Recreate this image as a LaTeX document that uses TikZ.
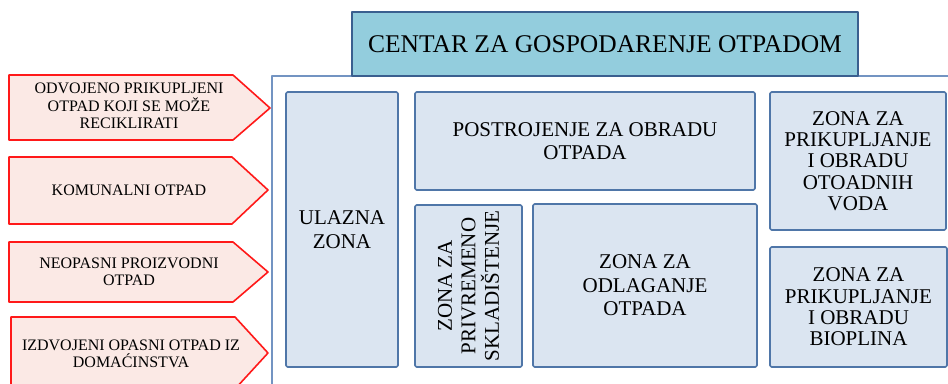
\documentclass[tikz,border=0pt]{standalone}
\usepackage{fontspec}
\setmainfont{Liberation Serif}
\usepackage{tikz}
\definecolor{ttccdd}{rgb}{0.576,0.804,0.867}
\definecolor{qqwwaa}{rgb}{0.227,0.373,0.561}
\definecolor{ddeeff}{rgb}{0.859,0.898,0.945}
\definecolor{wwaacc}{rgb}{0.31,0.463,0.659}
\definecolor{aabbdd}{rgb}{0.45,0.58,0.76}
\definecolor{ffeeee}{rgb}{0.984,0.914,0.898}
\definecolor{ffqqqq}{rgb}{1.,0.1,0.1}
\tikzstyle{every node}=[font=\fontsize{21}{23.5}\selectfont]

\begin{document}
\begin{tikzpicture}[line cap=round,line join=round,x=1pt,y=-1pt,
  zona/.style={draw=wwaacc,fill=ddeeff,line width=1.6pt,rounded corners=1.5pt,align=center,inner sep=2pt},
  ulaz/.style={draw=ffqqqq,fill=ffeeee,line width=1.6pt},
  ulaztxt/.style={align=center,font=\fontsize{16}{17.5}\selectfont}]
\clip (0,0) rectangle (948,383);
\useasboundingbox (0,0) rectangle (948,383);
% ulazni tokovi otpada
\draw [ulaz] (9,75) -- (233,75) -- (270,108) -- (233,140) -- (9,140) -- cycle;
\draw [ulaz] (9,157) -- (232,157) -- (268,190) -- (232,224) -- (9,224) -- cycle;
\draw [ulaz] (9,242) -- (233,242) -- (268,272) -- (233,302) -- (9,302) -- cycle;
\draw [ulaz] (11,317) -- (235,317) -- (268,353) -- (235,389) -- (11,389) -- cycle;
\node [ulaztxt] (reciklaza) at (129,106) {ODVOJENO PRIKUPLJENI\\OTPAD KOJI SE MOŽE\\RECIKLIRATI};
\node [ulaztxt] (komunalni) at (129,190) {KOMUNALNI OTPAD};
\node [ulaztxt] (neopasni) at (129,272) {NEOPASNI PROIZVODNI\\OTPAD};
\node [ulaztxt] (opasni) at (131,354) {IZDVOJENI OPASNI OTPAD IZ\\DOMAĆINSTVA};
% centar
\draw [line width=1.6pt,color=aabbdd,fill=white] (272,76) rectangle (970,400);
\node [draw=qqwwaa,fill=ttccdd,line width=1.6pt,minimum width=506pt,minimum height=64pt,
  font=\fontsize{25.5}{28}\selectfont] (centar) at (605,44) {CENTAR ZA GOSPODARENJE OTPADOM};
\node [zona,minimum width=112pt,minimum height=275pt] (ulazna) at (342,229.5) {ULAZNA\\ZONA};
\node [zona,minimum width=340pt,minimum height=98pt] (postrojenje) at (585,141) {POSTROJENJE ZA OBRADU\\OTPADA};
\node [zona,rotate=90,minimum width=162pt,minimum height=107pt] (skladiste) at (468.5,286) {ZONA ZA\\PRIVREMENO\\SKLADIŠTENJE};
\node [zona,minimum width=224pt,minimum height=163pt] (odlaganje) at (645,285.5) {ZONA ZA\\ODLAGANJE\\OTPADA};
\node [zona,minimum width=176pt,minimum height=138pt,font=\fontsize{21}{21.3}\selectfont] (vode) at (858,161) {ZONA ZA\\PRIKUPLJANJE\\I OBRADU\\OTOADNIH\\VODA};
\node [zona,minimum width=177pt,minimum height=120pt,font=\fontsize{21}{21.3}\selectfont] (bioplin) at (858.5,307) {ZONA ZA\\PRIKUPLJANJE\\I OBRADU\\BIOPLINA};
\end{tikzpicture}
\end{document}
